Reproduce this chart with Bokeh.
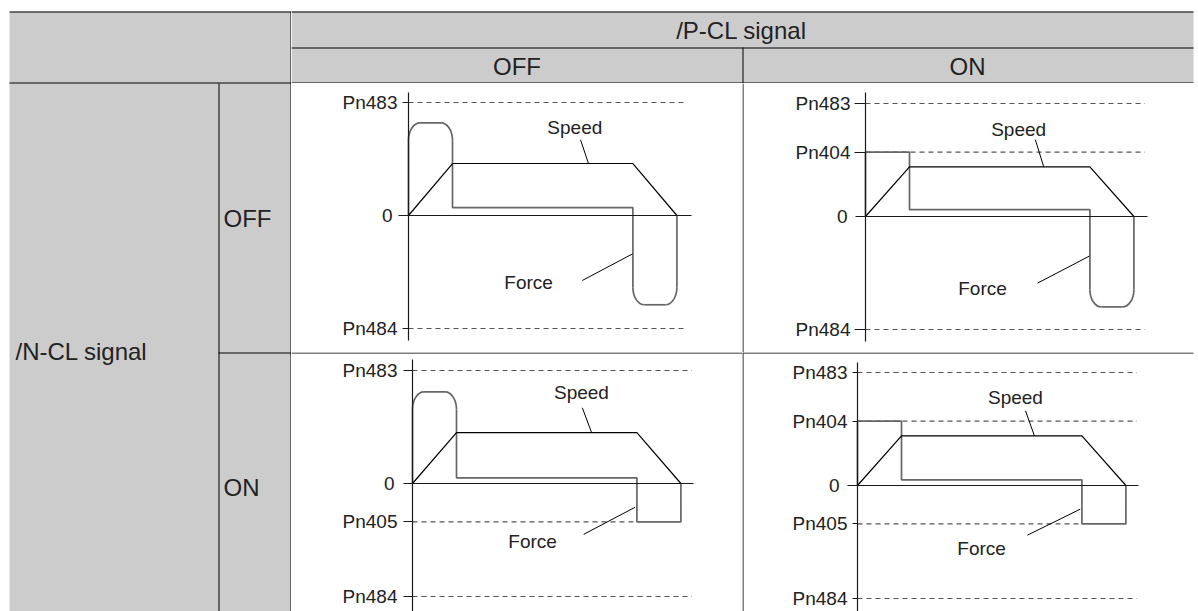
import math
from bokeh.plotting import figure
from bokeh.layouts import row, column
from bokeh.models import Range1d, LinearAxis, FixedTicker
from bokeh.core.properties import value
from bokeh.embed import file_html
from bokeh.resources import INLINE

# ---------------- data ----------------
top_header = "/P-CL signal"
p_cl_states = ["OFF", "ON"]
side_header = "/N-CL signal"
n_cl_states = ["OFF", "ON"]
curve_names = ["Speed", "Force"]

# time breakpoints: start, end of acceleration, start of deceleration, stop
speed_t = [0, 10, 51, 61]
force_t = [0, 0, 10, 10, 51, 51, 61, 61]

# /N-CL OFF, /P-CL OFF
a_level_names = ["Pn483", "Pn484"]
a_level_values = [100, -100]
a_speed = [0, 46, 46, 0]
a_force = [0, 82, 82, 7, 7, -79, -79, 0]
a_rounded = [1, 2, 5, 6]

# /N-CL OFF, /P-CL ON
b_level_names = ["Pn483", "Pn404", "Pn484"]
b_level_values = [100, 57, -100]
b_speed = [0, 44, 44, 0]
b_force = [0, 57, 57, 6, 6, -80, -80, 0]
b_rounded = [5, 6]

# /N-CL ON, /P-CL OFF
c_level_names = ["Pn483", "Pn405", "Pn484"]
c_level_values = [100, -34, -100]
c_speed = [0, 45, 45, 0]
c_force = [0, 81, 81, 5, 5, -34, -34, 0]
c_rounded = [1, 2]

# /N-CL ON, /P-CL ON
d_level_names = ["Pn483", "Pn404", "Pn405", "Pn484"]
d_level_values = [100, 57, -34, -100]
d_speed = [0, 44, 44, 0]
d_force = [0, 57, 57, 5, 5, -34, -34, 0]
d_rounded = []

# ---------------- styling / layout ----------------
FONT = "Liberation Sans"
HEAD_SIZE = "24px"
PANEL_SIZE = "19px"
GRAY = "#cccccc"
TEXT = "#222222"
AXIS = "#1a1a1a"
FORCE_COL = "#666666"
DASH_COL = "#555555"
PX_T = 4.4    # pixels per time unit
PX_V = 1.13   # pixels per value unit
RT, RV = 2.6, 15.5   # corner rounding (time units, value units)
K = 0.5523
PAGE_W, PAGE_H = 1198, 611
TABLE_R = 1193

panel_layout = {
    "a": dict(cell=(291, 742, 83, 352), origin=(408, 215), tick=6, stand=5, ztick=10, zstand=6,
              ybounds=(-111, 109), dash_end=62.5, x_end=64.3, left_border=False, top_border=False,
              speed_lbl=(37.8, 78), speed_lead=((39.1, 67), (40.9, 46)),
              force_lbl=(27.3, -59), force_lead=((39.5, -57.5), (50.9, -34))),
    "b": dict(cell=(742, PAGE_W, 83, 352), origin=(865, 216), tick=11, stand=4, ztick=10, zstand=8,
              ybounds=(-111, 110), dash_end=63.5, x_end=64, left_border=True, top_border=False,
              speed_lbl=(34.8, 77), speed_lead=((38.6, 68), (40.5, 44)),
              force_lbl=(26.6, -64), force_lead=((39.1, -59), (50.9, -35))),
    "c": dict(cell=(291, 742, 352, PAGE_H), origin=(412, 483), tick=9, stand=6, ztick=9, zstand=9,
              ybounds=(-140, 109.5), dash_end=63.5, x_end=63.9, left_border=False, top_border=True,
              speed_lbl=(38.4, 80.5), speed_lead=((38.6, 67), (40.7, 45)),
              force_lbl=(27.3, -51), force_lead=((38.9, -45), (50.6, -21))),
    "d": dict(cell=(742, PAGE_W, 352, PAGE_H), origin=(857, 485), tick=5, stand=5, ztick=10, zstand=8,
              ybounds=(-140, 108.5), dash_end=63.5, x_end=63.9, left_border=True, top_border=True,
              speed_lbl=(35.9, 78), speed_lead=((38.2, 66), (40.2, 44)),
              force_lbl=(28.2, -56), force_lead=((38.6, -44), (50.6, -21))),
}
short_dash_levels = {"Pn405": 51}


def base_fig(width, height, xr, yr, bg="white"):
    p = figure(width=width, height=height, x_range=xr, y_range=yr,
               output_backend="svg", toolbar_location=None,
               x_axis_type=None, y_axis_type=None, min_border=0)
    p.min_border_left = p.min_border_right = p.min_border_top = p.min_border_bottom = 0
    p.outline_line_color = None
    p.grid.visible = False
    p.background_fill_color = bg
    p.border_fill_color = bg
    return p


def text(p, x, y, s, size, align="center"):
    p.text(x=[x], y=[y], text=[s], text_font=value(FONT), text_font_size=value(size),
           text_color=TEXT, text_align=align, text_baseline="middle")


# ---------------- left column (page pixel coordinates) ----------------
left = base_fig(291, PAGE_H, Range1d(0, 291), Range1d(PAGE_H, 0))
left.quad(left=[9], right=[291], top=[11], bottom=[PAGE_H], fill_color=GRAY, line_color=None)
left.segment(x0=[9, 9, 218.5, 218, 290.5], y0=[11.5, 82.5, 83, 352.5, 11],
             x1=[291, 291, 218.5, 291, 290.5], y1=[11.5, 82.5, PAGE_H, 352.5, PAGE_H],
             line_color="black", line_width=1)
text(left, 15, 351, side_header, HEAD_SIZE, "left")
text(left, 223, 217.5, n_cl_states[0], HEAD_SIZE, "left")
text(left, 223, 487, n_cl_states[1], HEAD_SIZE, "left")

# ---------------- header (page pixel coordinates) ----------------
head = base_fig(PAGE_W - 291, 83, Range1d(291, PAGE_W), Range1d(83, 0))
head.quad(left=[291], right=[TABLE_R], top=[11], bottom=[83], fill_color=GRAY, line_color=None)
head.segment(x0=[291, 291, 291, 742.5], y0=[11.5, 47.5, 82.5, 47],
             x1=[TABLE_R, TABLE_R, TABLE_R, 742.5], y1=[11.5, 47.5, 82.5, 83],
             line_color="black", line_width=1)
text(head, 741, 29.5, top_header, HEAD_SIZE)
text(head, 516.5, 65.5, p_cl_states[0], HEAD_SIZE)
text(head, 967, 65.5, p_cl_states[1], HEAD_SIZE)


# ---------------- panels ----------------
def rounded_path(ts, vs, rounded):
    pieces, curves = [], []
    cur = []
    for i, (t, v) in enumerate(zip(ts, vs)):
        if i in rounded:
            def toward(bt, bv):
                if bt == t:
                    return (t, v + math.copysign(RV, bv - v))
                return (t + math.copysign(RT, bt - t), v)
            s = toward(ts[i - 1], vs[i - 1])
            e = toward(ts[i + 1], vs[i + 1])
            cur.append(s)
            pieces.append(cur)
            cur = [e]
            curves.append((s, e, (t, v)))
        else:
            cur.append((t, v))
    pieces.append(cur)
    return pieces, curves


def make_panel(key, names, levels, speed_v, force_v, rounded):
    g = panel_layout[key]
    xl, xr, yt, yb = g["cell"]
    ox, oy = g["origin"]
    p = base_fig(xr - xl, yb - yt,
                 Range1d((xl - ox) / PX_T, (xr - ox) / PX_T),
                 Range1d((oy - yb) / PX_V, (oy - yt) / PX_V))
    t_right = (min(xr, TABLE_R) - ox) / PX_T

    # cell borders
    if g["left_border"]:
        bx = (xl + 0.5 - ox) / PX_T
        p.segment(x0=[bx], y0=[(oy - yb) / PX_V], x1=[bx], y1=[(oy - yt) / PX_V],
                  line_color="black", line_width=1)
    if g["top_border"]:
        by = (oy - yt - 0.5) / PX_V
        p.segment(x0=[(xl - ox) / PX_T], y0=[by], x1=[t_right], y1=[by],
                  line_color="black", line_width=1)

    # dashed limit lines
    ends = [short_dash_levels.get(n, g["dash_end"]) for n in names]
    p.segment(x0=[0] * len(levels), y0=levels, x1=ends, y1=levels,
              line_color=DASH_COL, line_width=1.1, line_dash="5 4")

    # axes
    overrides = {}
    for v, n in zip(levels, names):
        overrides[v] = n
        overrides[str(v)] = n
    yax = LinearAxis(fixed_location=0, ticker=FixedTicker(ticks=levels, minor_ticks=[]),
                     bounds=g["ybounds"], major_label_overrides=overrides,
                     major_tick_out=g["tick"], major_tick_in=0, minor_tick_out=0, minor_tick_in=0,
                     major_label_standoff=g["stand"], major_label_text_font=FONT,
                     major_label_text_font_size=PANEL_SIZE, major_label_text_color=TEXT,
                     axis_line_color=AXIS, axis_line_width=1.2, major_tick_line_color=AXIS,
                     major_tick_line_width=1)
    p.add_layout(yax, "left")
    zax = LinearAxis(fixed_location=0, ticker=FixedTicker(ticks=[0], minor_ticks=[]),
                     bounds=g["ybounds"], major_tick_out=g["ztick"], major_tick_in=0,
                     minor_tick_out=0, minor_tick_in=0, major_label_standoff=g["zstand"],
                     major_label_text_font=FONT, major_label_text_font_size=PANEL_SIZE,
                     major_label_text_color=TEXT, axis_line_color=None,
                     major_tick_line_color=AXIS, major_tick_line_width=1.2)
    p.add_layout(zax, "left")
    xax = LinearAxis(fixed_location=0, ticker=FixedTicker(ticks=[], minor_ticks=[]),
                     bounds=(0, g["x_end"]), major_tick_out=0, major_tick_in=0,
                     minor_tick_out=0, minor_tick_in=0, major_label_text_font_size="0px",
                     axis_line_color=AXIS, axis_line_width=1.2)
    p.add_layout(xax, "below")

    # force curve
    pieces, curves = rounded_path(force_t, force_v, rounded)
    p.multi_line(xs=[[q[0] for q in pc] for pc in pieces], ys=[[q[1] for q in pc] for pc in pieces],
                 line_color=FORCE_COL, line_width=1.7)
    if curves:
        p.bezier(x0=[c[0][0] for c in curves], y0=[c[0][1] for c in curves],
                 x1=[c[1][0] for c in curves], y1=[c[1][1] for c in curves],
                 cx0=[c[0][0] + K * (c[2][0] - c[0][0]) for c in curves],
                 cy0=[c[0][1] + K * (c[2][1] - c[0][1]) for c in curves],
                 cx1=[c[1][0] + K * (c[2][0] - c[1][0]) for c in curves],
                 cy1=[c[1][1] + K * (c[2][1] - c[1][1]) for c in curves],
                 line_color=FORCE_COL, line_width=1.7)

    # speed curve
    p.line(x=speed_t, y=speed_v, line_color="black", line_width=1.2)

    # labels and leaders
    (s0, s1), (f0, f1) = g["speed_lead"], g["force_lead"]
    p.segment(x0=[s0[0], f0[0]], y0=[s0[1], f0[1]], x1=[s1[0], f1[0]], y1=[s1[1], f1[1]],
              line_color="black", line_width=1)
    text(p, g["speed_lbl"][0], g["speed_lbl"][1], curve_names[0], PANEL_SIZE)
    text(p, g["force_lbl"][0], g["force_lbl"][1], curve_names[1], PANEL_SIZE)
    return p


pa = make_panel("a", a_level_names, a_level_values, a_speed, a_force, a_rounded)
pb = make_panel("b", b_level_names, b_level_values, b_speed, b_force, b_rounded)
pc = make_panel("c", c_level_names, c_level_values, c_speed, c_force, c_rounded)
pd = make_panel("d", d_level_names, d_level_values, d_speed, d_force, d_rounded)

layout = row(left, column(head, row(pa, pb), row(pc, pd)))

open("out.html", "w").write(file_html(layout, INLINE))
